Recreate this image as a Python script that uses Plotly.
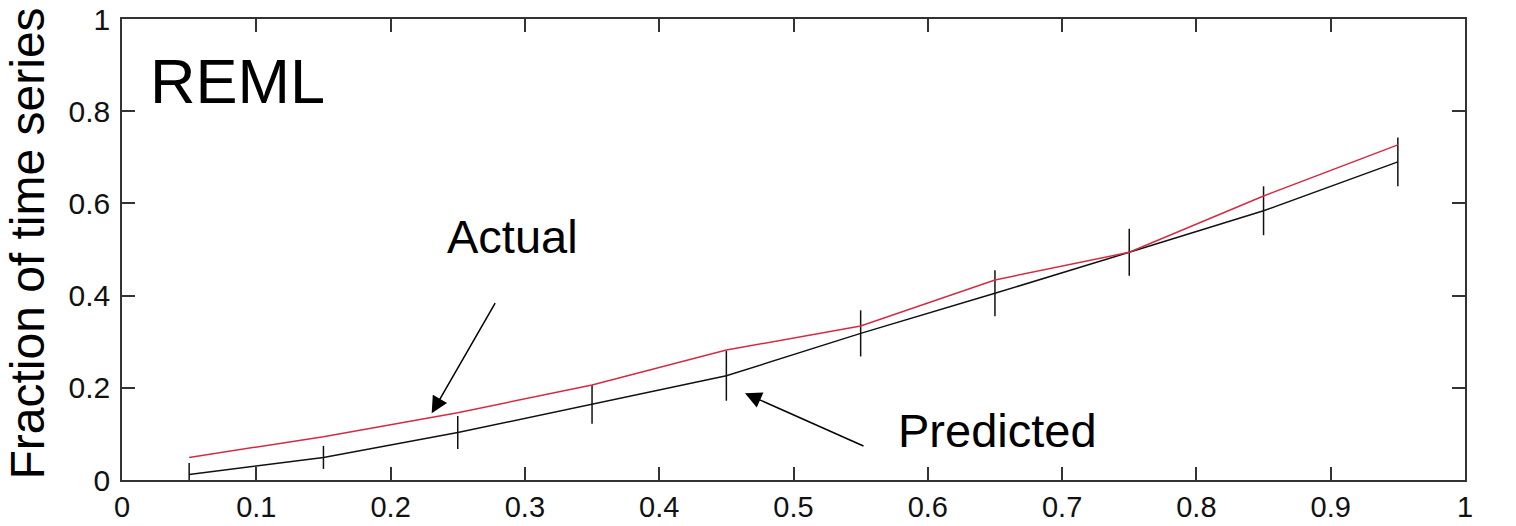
import plotly.graph_objects as go

# Data
x_vals = [0.05, 0.15, 0.25, 0.35, 0.45, 0.55, 0.65, 0.75, 0.85, 0.95]
predicted = [0.012, 0.049, 0.103, 0.164, 0.226, 0.318, 0.405, 0.494, 0.584, 0.690]
predicted_err = [0.025, 0.025, 0.036, 0.042, 0.054, 0.050, 0.050, 0.051, 0.053, 0.053]
actual = [0.049, 0.094, 0.146, 0.206, 0.282, 0.334, 0.434, 0.494, 0.616, 0.727]
tick_vals_x = [0, 0.1, 0.2, 0.3, 0.4, 0.5, 0.6, 0.7, 0.8, 0.9, 1]
tick_text_x = ["0", "0.1", "0.2", "0.3", "0.4", "0.5", "0.6", "0.7", "0.8", "0.9", "1"]
tick_vals_y = [0, 0.2, 0.4, 0.6, 0.8, 1]
tick_text_y = ["0", "0.2", "0.4", "0.6", "0.8", "1"]

FONT = "Liberation Sans, Arial, sans-serif"

fig = go.Figure()
fig.add_trace(go.Scatter(
    x=x_vals, y=predicted, mode="lines",
    line=dict(color="#111111", width=1.5),
    error_y=dict(type="data", array=predicted_err, visible=True,
                 color="#111111", thickness=1.5, width=0),
    name="Predicted", showlegend=False, cliponaxis=True,
))
fig.add_trace(go.Scatter(
    x=x_vals, y=actual, mode="lines",
    line=dict(color="#d42a44", width=1.5),
    name="Actual", showlegend=False,
))

axis_common = dict(
    showgrid=False, zeroline=False, showline=True, linecolor="#333333",
    linewidth=1.5, mirror="ticks", ticks="inside", ticklen=13,
    tickwidth=1.5, tickcolor="#333333", automargin=False,
)

fig.update_layout(
    width=1516, height=526,
    margin=dict(l=122, r=51, t=19, b=46),
    paper_bgcolor="white", plot_bgcolor="white",
    xaxis=dict(range=[0, 1], tickvals=tick_vals_x, ticktext=tick_text_x,
               ticklabelstandoff=0,
               tickfont=dict(family=FONT, size=29, color="#111111"),
               **axis_common),
    yaxis=dict(range=[0, 1], tickvals=tick_vals_y, ticktext=tick_text_y,
               ticklabelstandoff=4,
               tickfont=dict(family=FONT, size=30, color="#111111"),
               **axis_common),
    font=dict(family=FONT, color="#000000"),
)

# Y axis title
fig.add_annotation(
    text="Fraction of time series", xref="paper", yref="paper",
    x=-0.0707, y=0.513, xanchor="center", yanchor="middle",
    textangle=-90, showarrow=False,
    font=dict(family=FONT, size=48, color="#000000"),
)

# Panel label
fig.add_annotation(
    text="REML", xref="x", yref="y", x=0.086, y=0.865,
    xanchor="center", yanchor="middle", showarrow=False,
    font=dict(family=FONT, size=63, color="#000000"),
)

# Arrow labels
fig.add_annotation(
    text="Actual", xref="x", yref="y", x=0.2911, y=0.528,
    xanchor="center", yanchor="middle", showarrow=False,
    font=dict(family=FONT, size=47, color="#000000"),
)
fig.add_annotation(
    text="Predicted", xref="x", yref="y", x=0.6519, y=0.108,
    xanchor="center", yanchor="middle", showarrow=False,
    font=dict(family=FONT, size=47, color="#000000"),
)

# Arrows
fig.add_annotation(
    x=0.2306, y=0.1447, ax=0.2785, ay=0.3868,
    xref="x", yref="y", axref="x", ayref="y", text="",
    showarrow=True, arrowhead=2, arrowsize=2.2, arrowwidth=1.5, arrowcolor="#000000",
)
fig.add_annotation(
    x=0.4639, y=0.188, ax=0.5532, ay=0.0722,
    xref="x", yref="y", axref="x", ayref="y", text="",
    showarrow=True, arrowhead=2, arrowsize=2.2, arrowwidth=1.5, arrowcolor="#000000",
)

fig.write_html("out.html")
